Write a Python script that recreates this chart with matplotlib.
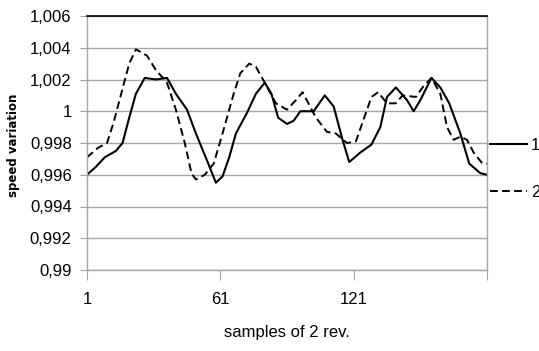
import matplotlib
matplotlib.use("Agg")
import matplotlib.pyplot as plt
from matplotlib.lines import Line2D

# ---- data ----
s1_x = [1, 5, 9, 14, 17, 20, 23, 27, 32, 37, 41, 46, 50, 55, 59, 62, 65, 68, 73, 77,
        81, 84, 87, 91, 94, 97, 103, 108, 112, 116, 119, 124, 129, 133, 136, 140, 145,
        148, 151, 156, 160, 164, 169, 173, 178, 181]
s1_y = [0.996, 0.9965, 0.9971, 0.9975, 0.998, 0.9996, 1.0011, 1.0021, 1.002, 1.0021,
        1.0011, 1.0001, 0.9986, 0.9969, 0.9955, 0.9959, 0.9971, 0.9986, 0.9999, 1.0011,
        1.0018, 1.0011, 0.9996, 0.9992, 0.9994, 1.0, 1.0, 1.001, 1.0003, 0.9982,
        0.9968, 0.9974, 0.9979, 0.999, 1.0009, 1.0015, 1.0007, 1.0, 1.0007, 1.0021,
        1.0015, 1.0005, 0.9986, 0.9967, 0.9961, 0.996]

s2_x = [1, 6, 10, 13, 16, 20, 23, 28, 32, 37, 41, 45, 48, 50, 54, 58, 62, 67, 70, 74,
        77, 81, 86, 91, 95, 98, 104, 109, 113, 118, 122, 125, 129, 132, 136, 140, 143,
        149, 152, 156, 160, 163, 166, 169, 172, 175, 179, 181]
s2_y = [0.9971, 0.9977, 0.998, 0.9993, 1.0009, 1.003, 1.0039, 1.0035, 1.0026, 1.0018,
        1.0001, 0.998, 0.9961, 0.9957, 0.996, 0.9967, 0.9986, 1.0011, 1.0024, 1.003,
        1.0028, 1.0018, 1.0005, 1.0001, 1.0007, 1.0012, 0.9996, 0.9987, 0.9986, 0.998,
        0.9981, 0.9993, 1.0009, 1.0012, 1.0005, 1.0005, 1.001, 1.0009, 1.0015, 1.0021,
        1.0011, 0.999, 0.9982, 0.9984, 0.9982, 0.9974, 0.9967, 0.9967]

series_names = ["1", "2"]
y_ticks = [0.99, 0.992, 0.994, 0.996, 0.998, 1.0, 1.002, 1.004, 1.006]
y_tick_labels = ["0,99", "0,992", "0,994", "0,996", "0,998", "1", "1,002", "1,004", "1,006"]
x_ticks = [1, 61, 121, 181]
x_tick_labels = ["1", "61", "121", ""]
x_title = "samples of 2 rev."
y_title = "speed variation"

narrow = ["Liberation Sans Narrow", "Liberation Sans", "DejaVu Sans"]
grey = "#a6a6a6"

fig = plt.figure(figsize=(5.39, 3.51), dpi=100)
ax = fig.add_axes([87/539, 1-270/351, 400/539, 254/351])

l1, = ax.plot(s1_x, s1_y, color="black", lw=1.5, solid_joinstyle="round")
l2, = ax.plot(s2_x, s2_y, color="black", lw=1.4, dashes=(4, 2.2))

ax.set_xlim(1, 181)
ax.set_ylim(0.99, 1.006)
ax.set_yticks(y_ticks)
ax.set_yticklabels(y_tick_labels, family=narrow, fontsize=12)
ax.set_xticks(x_ticks)
ax.set_xticklabels(x_tick_labels, family=narrow, fontsize=12)
ax.tick_params(axis="y", length=5, color=grey, pad=6)
ax.tick_params(axis="x", length=7, color=grey, pad=9)
ax.grid(axis="y", color=grey, lw=1)
ax.set_axisbelow(True)
for side in ["left", "bottom", "right"]:
    ax.spines[side].set_color(grey)
    ax.spines[side].set_linewidth(1)
ax.spines["top"].set_color("black")
ax.spines["top"].set_linewidth(1.2)

ax.set_xlabel(x_title, family=narrow, fontsize=12, labelpad=13)
fig.text(14/539, 1-145/351, y_title, rotation=90, fontsize=8.5, fontweight="bold",
         family="DejaVu Sans", ha="center", va="center")

leg = fig.legend([l1, l2], series_names, loc="center left",
                 bbox_to_anchor=(490/539, 1-169/351), frameon=False,
                 prop={"family": narrow, "size": 12}, handlelength=2.2,
                 handletextpad=0.25, labelspacing=1.9, borderaxespad=0, borderpad=0)

fig.savefig("out.png", dpi=100)
